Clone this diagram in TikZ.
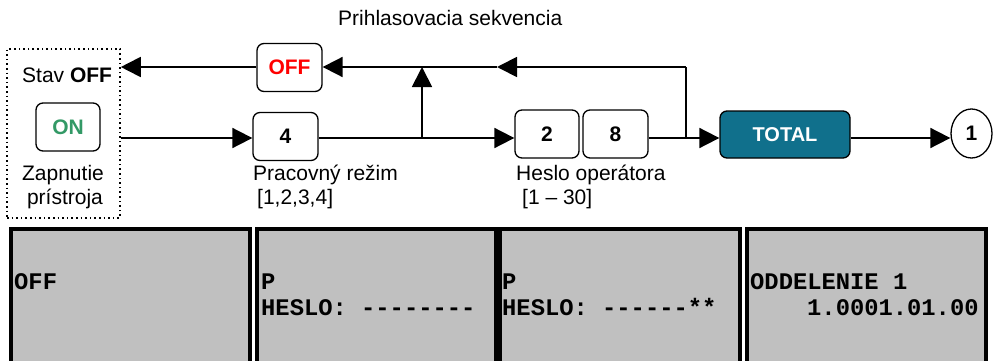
\documentclass[tikz,border=0pt]{standalone}
\usepackage{fontspec}
\setmainfont{Liberation Sans}
\newfontfamily\monofont{Liberation Mono}
\usetikzlibrary{arrows.meta,shapes.geometric}
\definecolor{ongreen}{RGB}{51,153,102}
\definecolor{totalblue}{RGB}{16,112,140}
\definecolor{scrgray}{RGB}{192,192,192}
\newcommand\hy{-\kern0pt}
\begin{document}
\begin{tikzpicture}[x=1pt,y=-1pt,
  lbl/.style={inner sep=0pt, font=\fontsize{21}{24}\selectfont},
  keybox/.style={draw, rounded corners=7pt, line width=1.3pt, minimum width=65pt, minimum height=48pt, inner sep=0pt, font=\bfseries\fontsize{21}{21}\selectfont},
  conn/.style={line width=1.8pt},
  arr/.style={conn, -{Triangle[length=20pt,width=20pt]}},
  screen/.style={fill=scrgray, draw=black, line width=4pt},
  scrtext/.style={inner sep=0pt, anchor=base west, font=\monofont\bfseries\fontsize{23.8}{26}\selectfont}
]
\useasboundingbox (0,0) rectangle (995,361);

% top title
\node[lbl, anchor=base west] (title) at (338,26) {Prihlasovacia sekvencia};

% state box
\node[draw, dash pattern=on 1.6pt off 3pt, line width=1.6pt, minimum width=113pt, minimum height=169pt, inner sep=0pt] (state) at (63.5,133.5) {};
\node[lbl, anchor=base west] (stav) at (22,82) {Stav \textbf{OFF}};
\node[keybox, minimum width=64pt] (on) at (68,127) {\textcolor{ongreen}{ON}};
\node[lbl, anchor=base] (zap) at (63,180) {Zapnutie};
\node[lbl, anchor=base] (pri) at (65,204) {prístroja};

% keys
\node[keybox] (off) at (289.5,67.5) {\textcolor{red}{OFF}};
\node[keybox] (k4) at (285.5,136.5) {4};
\node[keybox, minimum width=64pt] (k2) at (547,134) {2};
\node[keybox] (k8) at (615.5,134) {8};
\node[keybox, fill=totalblue, minimum width=130pt, minimum height=47pt, text=white, font=\bfseries\fontsize{20}{20}\selectfont] (total) at (785,134.5) {TOTAL};
\node[draw, ellipse, line width=1.3pt, minimum width=41pt, minimum height=49pt, inner sep=0pt, font=\bfseries\fontsize{21}{21}\selectfont] (c1) at (971.5,133.5) {1};

% labels
\node[lbl, anchor=base west] (prac) at (253,180) {Pracovný režim};
\node[lbl, anchor=base west] (pracr) at (257,204) {[1,2,3,4]};
\node[lbl, anchor=base west] (hes) at (516,180) {Heslo operátora};
\node[lbl, anchor=base west] (hesr) at (522,204) {[1 \textendash{} 30]};

% connectors
\coordinate (j1) at (422,138);
\coordinate (t1) at (422,67);
\coordinate (j2) at (686,138);
\coordinate (t2) at (686,67);
\coordinate (m) at (497,67);

\draw[arr] (state.east |- j1) -- (k4.west |- j1);
\draw[conn] (k4.east |- j1) -- (j1);
\draw[arr] (j1) -- (k2.west |- j1);
\draw[arr] (j1) -- (t1);
\draw[conn] (k8.east |- j1) -- (j2);
\draw[arr] (j2) -- (total.west |- j1);
\draw[conn] (j2) -- (t2);
\draw[arr] (t2) -- (m);
\draw[arr] (m) -- (off.east |- m);
\draw[arr] (off.west |- m) -- (state.east |- m);
\draw[arr] (total.east |- j1) -- (c1.west |- j1);

% screens
\begin{scope}
\clip (0,0) rectangle (995,361);
\path[screen] (10.5,229) rectangle (250,380);
\path[screen] (257,229) rectangle (496,380);
\path[screen] (500,229) rectangle (740,380);
\path[screen] (747,229) rectangle (986,380);
\end{scope}

\node[scrtext] (s1a) at (14,289.5) {OFF};
\node[scrtext] (s2a) at (261,289.5) {P};
\node[scrtext] (s2b) at (261,315.5) {HESLO: \hy\hy\hy\hy\hy\hy\hy\hy};
\node[scrtext] (s3a) at (502,289.5) {P};
\node[scrtext] (s3b) at (502,315.5) {HESLO: \hy\hy\hy\hy\hy\hy**};
\node[scrtext] (s4a) at (750,289.5) {ODDELENIE 1};
\node[scrtext] (s4b) at (807,315.5) {1.0001.01.00};
\end{tikzpicture}
\end{document}
